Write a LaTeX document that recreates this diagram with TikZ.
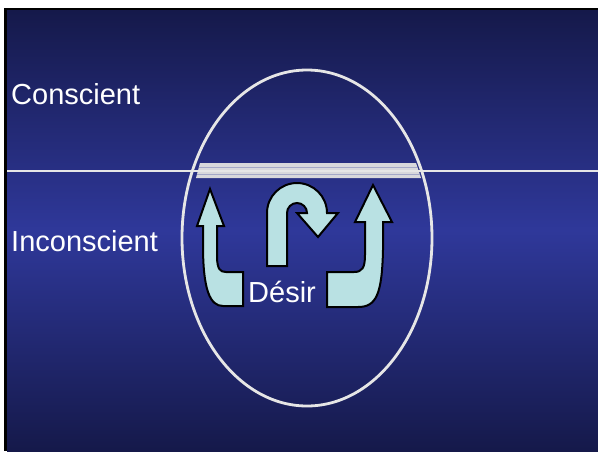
\documentclass[tikz,border=0pt]{standalone}
\usepackage{fontspec}
\setmainfont{Liberation Sans}
\definecolor{bgdark}{HTML}{15194A}
\definecolor{bgmid}{HTML}{2F389A}
\definecolor{arrowfill}{HTML}{B9E1E3}
\definecolor{bandgray}{HTML}{D8D8DC}
\definecolor{bandline}{HTML}{A4A8C8}
\definecolor{linegray}{HTML}{E6E6E6}
\begin{document}
\begin{tikzpicture}[x=1pt,y=-1pt,
  lbl/.style={text=white,inner sep=0pt,anchor=base west,font=\fontsize{29}{33}\selectfont},
  arrowshape/.style={fill=arrowfill,draw=black,line width=2pt,line join=miter}]
\useasboundingbox (0,0) rectangle (598,451);
\fill[white] (0,0) rectangle (598,451);
\fill[black] (4,8) rectangle (598,451);
\shade[top color=bgdark,bottom color=bgdark,middle color=bgmid] (7,10) rectangle (598,451);
% band
\fill[bandgray] (200,163) -- (416,163) -- (421,178) -- (196,178) -- cycle;
\draw[bandline,line width=0.7pt] (199,167.5) -- (417,167.5);
\draw[bandline,line width=0.7pt] (197,174.5) -- (420,174.5);
% horizontal line
\coordinate (hl) at (7,171);
\coordinate (hr) at (598,171);
\draw[linegray,line width=2pt] (hl) -- (hr);
% ellipse
\draw[linegray,line width=2.8pt] (307,238) ellipse [x radius=125,y radius=168];
% left arrow
\draw[arrowshape] (210,189) -- (224,226) -- (217,226) -- (217,258)
  .. controls (217.5,269) and (220,272) .. (226,272) -- (243,272) -- (243,306) -- (223,306)
  .. controls (210,306) and (203,290) .. (203,245) -- (203,226) -- (197,226) -- cycle;
% right arrow
\draw[arrowshape] (373,185) -- (392,222) -- (383,222) -- (383,250)
  .. controls (382,295) and (376,307) .. (358,307) -- (327,307) -- (327,272) -- (354,272)
  .. controls (362,272) and (365,268) .. (365,255) -- (365,222) -- (355,222) -- cycle;
% middle U-turn arrow
\draw[arrowshape] (267,266) -- (267,213) arc[start angle=180,end angle=0,radius=30pt]
  -- (338,213) -- (318,237) -- (297,213) -- (307,213)
  arc[start angle=0,end angle=180,radius=10pt] -- (287,266) -- cycle;
% labels
\node[lbl] (consc) at (11,104) {Conscient};
\node[lbl] (incons) at (11,251) {Inconscient};
\node[lbl] (desir) at (248,302) {Désir};
\end{tikzpicture}
\end{document}
